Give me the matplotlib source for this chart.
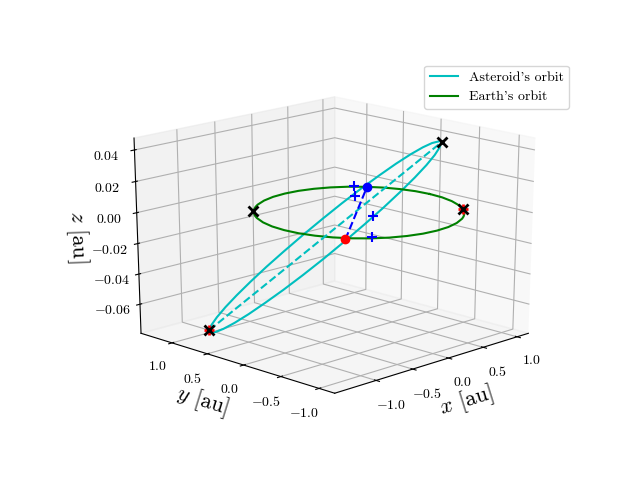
import matplotlib
matplotlib.use("Agg")
import matplotlib.pyplot as plt

plt.rcParams['font.family'] = ['cmr10', 'DejaVu Sans']
plt.rcParams['mathtext.fontset'] = 'cm'
plt.rcParams['axes.formatter.use_mathtext'] = True
plt.rcParams['axes.unicode_minus'] = True

# earth orbit
earth_x = [1.017, 1.002, .956, .882, .781, .656, .512, .352, .183, .007, -.169, -.338, -.498, -.573, -.642, -.707, -.767, -.82, -.868, -.942, -.988,
           -1.003, -.988, -.942, -.868, -.767, -.642, -.498, -.338, -.169, .007, .183, .352, .512, .587, .656, .721, .781, .834, .882, .956, 1.002, 1.017]
earth_y = [-.007, .169, .338, .498, .642, .767, .868, .942, .988, 1.003, .988, .942, .868, .82, .767, .707, .642, .573, .498, .338, .169,
           -.007, -.183, -.352, -.512, -.656, -.781, -.882, -.956, -1.002, -1.017, -1.002, -.956, -.882, -.834, -.781, -.721, -.656, -.587, -.512, -.352, -.183, -.007]
earth_z = [0.0] * 43

# asteroid orbit
ast_x = [.56, .6, .633, .686, .712, .709, .677, .617, .531, .422, .293, .148, -.009, -.173, -.339, -.501, -.656, -.798, -.923, -.978,
         -1.027, -1.07, -1.107, -1.16, -1.186, -1.183, -1.151, -1.091, -1.005, -.896, -.767, -.622, -.465, -.301, -.135, .027, .182, .324, .449, .5, .56]
ast_y = [-.56, -.5, -.449, -.324, -.182, -.027, .135, .301, .465, .622, .767, .896, 1.005, 1.091, 1.151, 1.183, 1.186, 1.16, 1.107, 1.07,
         1.027, .978, .923, .798, .656, .501, .339, .173, .009, -.148, -.293, -.422, -.531, -.617, -.677, -.709, -.712, -.686, -.633, -.6, -.56]
ast_z = [.0445, .044, .0429, .0401, .0356, .0295, .022, .0132, .0036, -.0067, -.0174, -.028, -.0383, -.0479, -.0567, -.0642, -.0703, -.0748, -.0776, -.0783,
         -.0785, -.0783, -.0776, -.0748, -.0703, -.0642, -.0567, -.0479, -.0383, -.028, -.0174, -.0067, .0036, .0132, .022, .0295, .0356, .0401, .0429, .044, .0445]

apsides_x = [-1.027, .56]
apsides_y = [1.027, -.56]
apsides_z = [-.0785, .0445]

earth_marks_x = [-.72, .797]
earth_marks_y = [.71, -.637]
earth_marks_z = [0.0, 0.0]
red_x_x = [-1.027, .797]
red_x_y = [1.027, -.637]
red_x_z = [-.0785, 0.0]

red_dot = [-.837, -.643, 0.0]
blue_dot = [.773, .617, 0.0]
plus_x = [.716, .427, -.026, -.597]
plus_y = [.739, .453, -.224, -.753]
plus_z = [0.0, 0.0, 0.0, 0.0]

fig = plt.figure()
ax = fig.add_subplot(111, projection='3d')

ax.plot(ast_x, ast_y, ast_z, color='c', label="Asteroid's orbit")
ax.plot(earth_x, earth_y, earth_z, color='g', label="Earth's orbit")
ax.plot(apsides_x, apsides_y, apsides_z, color='c', linestyle='--')
ax.plot([red_dot[0], blue_dot[0]], [red_dot[1], blue_dot[1]], [red_dot[2], blue_dot[2]], color='b', linestyle='--')
ax.plot(plus_x, plus_y, plus_z, 'b+', markersize=7, markeredgewidth=1.5)
ax.plot(red_x_x, red_x_y, red_x_z, 'r+', markersize=7, markeredgewidth=2)
ax.plot(apsides_x, apsides_y, apsides_z, 'kx', markersize=7, markeredgewidth=2)
ax.plot(earth_marks_x, earth_marks_y, earth_marks_z, 'kx', markersize=7, markeredgewidth=2)
ax.plot([red_dot[0]], [red_dot[1]], [red_dot[2]], 'ro', markersize=6)
ax.plot([blue_dot[0]], [blue_dot[1]], [blue_dot[2]], 'bo', markersize=6)

ax.set_xlim(-1.55, 1.17, view_margin=0)
ax.set_ylim(-1.2, 1.45, view_margin=0)
ax.set_zlim(-.0795, .0475, view_margin=0)
ax.set_xticks([-1.0, -.5, 0.0, .5, 1.0])
ax.set_yticks([-1.0, -.5, 0.0, .5, 1.0])
ax.set_zticks([-.06, -.04, -.02, 0.0, .02, .04])
ax.tick_params(labelsize=10)
ax.set_xlabel(r'$x$ [au]', fontsize=16)
ax.set_ylabel(r'$y$ [au]', fontsize=16)
ax.set_zlabel(r'$z$ [au]', fontsize=16)
ax.view_init(elev=20, azim=-135)

# cube stretched to fill the whole subplot, the way older mplot3d drew it
ax.set_box_aspect((1, 1, 1), zoom=0.945)
ax.apply_aspect = lambda position=None: None
ax.set_position(ax.get_position(original=True))

fig.legend(loc='upper right', bbox_to_anchor=(0.9, 0.878), fontsize=10)

fig.savefig('out.png', dpi=100)
